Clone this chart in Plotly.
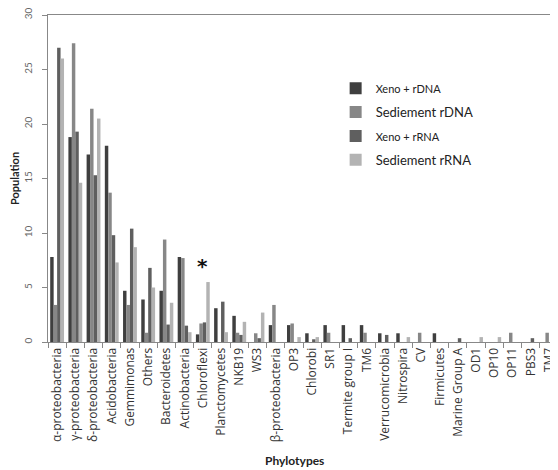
import plotly.graph_objects as go

categories = ["α-proteobacteria", "γ-proteobacteria", "δ-proteobacteria", "Acidobacteria",
              "Gemmimonas", "Others", "Bacteroidetes", "Actinobacteria", "Chloroflexi",
              "Planctomycetes", "NKB19", "WS3", "β-proteobacteria", "OP3", "Chlorobi", "SR1",
              "Termite group I", "TM6", "Verrucomicrobia", "Nitrospira", "CV", "Firmicutes",
              "Marine Group A", "OD1", "OP10", "OP11", "PBS3", "TM7"]

xeno_rdna = [7.8, 18.8, 17.2, 18.0, 4.7, 3.9, 4.7, 7.8, 0.7, 3.1, 2.4, 0, 1.55, 1.55, 0.8, 1.55,
             1.55, 1.55, 0.8, 0.8, 0, 0.8, 0, 0, 0, 0, 0, 0]
sed_rdna = [3.4, 27.4, 21.4, 13.7, 3.4, 0.85, 9.4, 7.7, 1.7, 0, 0.85, 0.8, 3.4, 1.7, 0, 0.85,
            0, 0.85, 0, 0, 0.85, 0, 0, 0, 0, 0.85, 0, 0.85]
xeno_rrna = [27.0, 19.3, 15.3, 9.8, 10.4, 6.8, 1.6, 1.5, 1.8, 3.7, 0.65, 0.35, 0, 0, 0.25, 0,
             0.35, 0, 0.65, 0, 0, 0, 0.35, 0, 0, 0, 0.35, 0]
sed_rrna = [26.0, 14.6, 20.5, 7.3, 8.7, 5.0, 3.6, 0.9, 5.5, 0.9, 1.85, 2.7, 0, 0.45, 0.45, 0,
            0, 0, 0, 0.45, 0, 0, 0, 0.45, 0.45, 0, 0, 0]

series_names = ["<span style='font-size:11px'>Xeno + rDNA</span>", "Sediement rDNA",
                "<span style='font-size:11px'>Xeno + rRNA</span>", "Sediement rRNA"]
series_values = [xeno_rdna, sed_rdna, xeno_rrna, sed_rrna]
series_colors = ["#3f3f3f", "#878787", "#5f5f5f", "#b3b3b3"]

y_ticks = [0, 5, 10, 15, 20, 25, 30]
marker_category = "Chloroflexi"
marker_value = 7.0

fig = go.Figure()
for i, (name, vals, col) in enumerate(zip(series_names, series_values, series_colors)):
    fig.add_trace(go.Bar(x=categories, y=vals, name=name, marker_color=col,
                         marker_line_width=0, legendgroup=f"g{i}"))

fig.add_annotation(x=marker_category, y=marker_value, text="<b>*</b>", showarrow=False,
                   font=dict(size=20, color="#111", family="DejaVu Sans"), yanchor="middle")
fig.add_annotation(x=0.483, y=-0.39, xref="paper", yref="paper", text="<b>Phylotypes</b>",
                   showarrow=False, font=dict(size=12, color="#222"), yanchor="bottom")

# page body has an 8px default margin, so the figure is 8px smaller to fit the window
fig.update_layout(
    width=550, height=462,
    margin=dict(l=37, r=0, t=5, b=128),
    paper_bgcolor="white", plot_bgcolor="white",
    font=dict(family="Lato, Open Sans, sans-serif", color="#333"),
    barmode="group", bargap=0.24, bargroupgap=0,
    showlegend=True,
    legend=dict(x=0.564, y=0.822, xanchor="left", yanchor="top", tracegroupgap=4,
                font=dict(size=13, color="#222"), bgcolor="rgba(0,0,0,0)"),
    xaxis=dict(range=[-0.5, 27.5], showline=True, linecolor="#888", linewidth=1,
               mirror=True, ticks="outside", tickson="boundaries", ticklen=5, tickcolor="#888",
               tickangle=-90,
               tickfont=dict(size=12, color="#333", family="Open Sans"), showgrid=False),
    yaxis=dict(range=[0, 30], tickvals=y_ticks, showline=True, linecolor="#888", linewidth=1,
               ticks="outside", ticklen=5, tickcolor="#888", tickangle=-90,
               ticklabeloverflow="allow",
               tickfont=dict(size=10, color="#666"), showgrid=False, zeroline=False,
               ticklabelstandoff=6,
               title=dict(text="<b>Population</b>", font=dict(size=11, color="#222"), standoff=6)),
)

fig.write_html("out.html")
